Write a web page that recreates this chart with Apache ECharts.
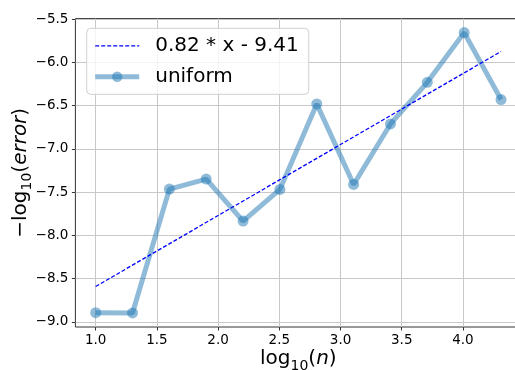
<!DOCTYPE html>
<html>
<head>
<meta charset="utf-8">
<script src="https://cdn.jsdelivr.net/npm/echarts@6/dist/echarts.min.js"></script>
<style>
html,body{margin:0;padding:0;background:#fff;}
#chart{width:515px;height:370px;}
</style>
</head>
<body>
<div id="chart"></div>
<script>
// ---- data ----
var xLog = [1.0, 1.301, 1.602, 1.903, 2.204, 2.505, 2.806, 3.107, 3.408, 3.709, 4.010, 4.311];
var yUniform = [-8.893, -8.896, -7.465, -7.349, -7.834, -7.468, -6.481, -7.411, -6.712, -6.231, -5.657, -6.430];
var fitX = [1.0, 4.311];
var fitY = [-8.59, -5.875];
var xTicks = [1.0, 1.5, 2.0, 2.5, 3.0, 3.5, 4.0];
var yTicks = [-9.0, -8.5, -8.0, -7.5, -7.0, -6.5, -6.0, -5.5];
var fitName = '0.82 * x - 9.41';
var seriesName = 'uniform';

function pairs(xs, ys) { return xs.map(function (x, i) { return [x, ys[i]]; }); }
function fmt(v) { return v.toFixed(1).replace('-', '\u2212'); }

var FONT = 'DejaVu Sans';
var axisColor = '#333';
var gridColor = '#c8c8c8';

var chart = echarts.init(document.getElementById('chart'), null, {renderer: 'canvas'});
chart.setOption({
  animation: false,
  backgroundColor: '#fff',
  grid: {
    left: 75.4, right: -6.3, top: 18.6, bottom: 43,
    outerBoundsMode: 'none', containLabel: false,
    show: true, borderColor: axisColor, borderWidth: 1, backgroundColor: 'transparent'
  },
  legend: {
    orient: 'vertical',
    left: 86.7, top: 28.3,
    padding: [5, 10, 5, 6],
    itemWidth: 44, itemHeight: 13, itemGap: 6,
    backgroundColor: 'rgba(255,255,255,0.8)',
    borderColor: '#d0d0d0', borderWidth: 1, borderRadius: 4,
    textStyle: {fontFamily: FONT, fontSize: 20, color: '#000', lineHeight: 22, padding: [3, 0, 0, 11]},
    data: [
      {name: fitName, itemStyle: {opacity: 0}, lineStyle: {color: '#0000ff', width: 1.3, type: [4, 2], opacity: 1}},
      {name: seriesName, itemStyle: {color: '#1f77b4', opacity: 0.5}, lineStyle: {color: '#1f77b4', width: 5, opacity: 0.5}}
    ],
    z: 10
  },
  xAxis: {
    type: 'value', min: 0.8344, max: 4.4766,
    axisLine: {show: false},
    axisTick: {show: true, customValues: xTicks, length: 3.5, lineStyle: {color: axisColor, width: 1}},
    axisLabel: {customValues: xTicks, formatter: fmt, fontFamily: FONT, fontSize: 13.5, color: '#000', margin: 6},
    splitLine: {show: true, lineStyle: {color: gridColor, width: 1}},
    name: '{a|log}{s|10}{a|(}{i|n}{a|)}',
    nameLocation: 'middle', nameGap: 20, nameMoveOverlap: false,
    nameTextStyle: {
      fontFamily: FONT, fontSize: 20, color: '#000',
      rich: {
        a: {fontFamily: FONT, fontSize: 20, color: '#000', lineHeight: 22, verticalAlign: 'bottom'},
        i: {fontFamily: FONT, fontSize: 20, fontStyle: 'italic', color: '#000', lineHeight: 22, verticalAlign: 'bottom'},
        s: {fontFamily: FONT, fontSize: 14, color: '#000', lineHeight: 14, verticalAlign: 'bottom', padding: [0, 0, -4, 0]}
      }
    }
  },
  yAxis: {
    type: 'value', min: -9.058, max: -5.495,
    axisLine: {show: false},
    axisTick: {show: true, customValues: yTicks, length: 3.5, lineStyle: {color: axisColor, width: 1}},
    axisLabel: {customValues: yTicks, formatter: fmt, fontFamily: FONT, fontSize: 13.5, color: '#000', margin: 7},
    splitLine: {show: true, lineStyle: {color: gridColor, width: 1}},
    name: '{a|\u2212log}{s|10}{a|(}{i|error}{a|)}',
    nameLocation: 'middle', nameGap: 45, nameRotate: 90, nameMoveOverlap: false,
    nameTextStyle: {
      fontFamily: FONT, fontSize: 20, color: '#000',
      rich: {
        a: {fontFamily: FONT, fontSize: 20, color: '#000', lineHeight: 22, verticalAlign: 'bottom'},
        i: {fontFamily: FONT, fontSize: 20, fontStyle: 'italic', color: '#000', lineHeight: 22, verticalAlign: 'bottom'},
        s: {fontFamily: FONT, fontSize: 14, color: '#000', lineHeight: 14, verticalAlign: 'bottom', padding: [0, 0, -4, 0]}
      }
    }
  },
  series: [
    {
      name: fitName, type: 'line',
      data: pairs(fitX, fitY),
      symbol: 'none',
      lineStyle: {color: '#0000ff', width: 1.3, type: [4, 2]},
      itemStyle: {color: '#0000ff'},
      z: 3
    },
    {
      name: seriesName, type: 'line',
      data: pairs(xLog, yUniform),
      symbol: 'circle', symbolSize: 11,
      lineStyle: {color: '#1f77b4', width: 5, opacity: 0.5},
      itemStyle: {color: '#1f77b4', opacity: 0.5, borderWidth: 0},
      z: 2
    }
  ]
});
</script>
</body>
</html>
